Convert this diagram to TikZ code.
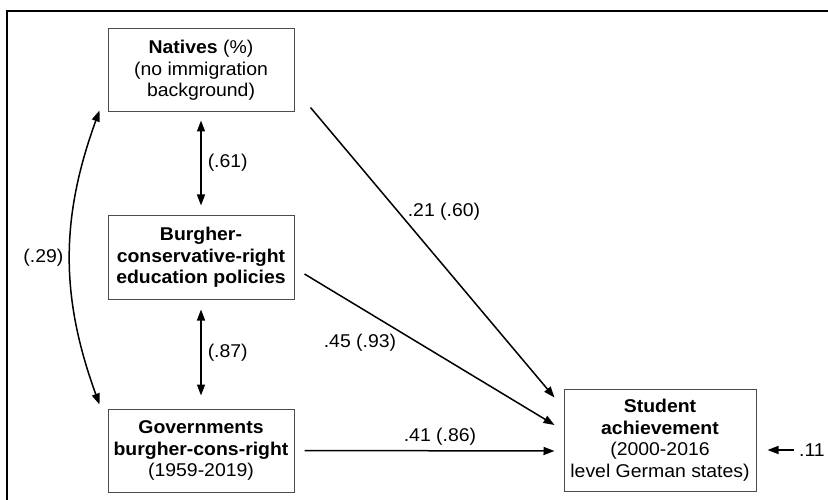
\documentclass[tikz,border=0pt]{standalone}
\usepackage{fontspec}
\setmainfont{Liberation Sans}[FakeStretch=1.05]
\usetikzlibrary{arrows.meta}
\begin{document}
\begin{tikzpicture}[x=1pt,y=1pt,
  box/.style={draw=black!70,line width=1pt,rectangle,minimum width=186pt,align=center,
    font=\fontsize{18.5}{21.5}\selectfont,inner sep=0pt},
  lbl/.style={font=\fontsize{18.5}{21.5}\selectfont,inner sep=0pt},
  arr/.style={line width=1.5pt,-{Triangle[length=11pt,width=8pt]}},
  darr/.style={line width=1.5pt,{Triangle[length=11pt,width=8pt]}-{Triangle[length=11pt,width=8pt]}}]
\useasboundingbox (0,0) rectangle (828,-500);
\draw[line width=1.4pt] (7,-502) -- (7,-11) -- (830,-11);
\node[box,minimum height=83pt] (nat) at (201,-70.5) {\textbf{Natives} (\%)\\(no immigration\\background)};
\node[box,minimum height=83pt] (bur) at (201,-257.5) {\textbf{Burgher-}\\\textbf{conservative-right}\\\textbf{education policies}};
\node[box,minimum height=83pt] (gov) at (201,-450.5) {\textbf{Governments}\\\textbf{burgher-cons-right}\\(1959-2019)};
\node[box,minimum width=192pt,minimum height=102pt] (stu) at (660,-440) {\textbf{Student}\\\textbf{achievement}\\(2000-2016\\level German states)};
\coordinate (res) at (794,-450);
\draw[darr] ([yshift=-8pt]nat.south) -- node[lbl,right=6pt] (l61) {(.61)} ([yshift=10pt]bur.north);
\draw[darr] ([yshift=-10pt]bur.south) -- node[lbl,right=6pt] (l87) {(.87)} ([yshift=13pt]gov.north);
\draw[darr] ([shift={(-8pt,2pt)}]nat.south west) to[bend right=20] node[lbl,left=6pt] (l29) {(.29)} ([shift={(-8pt,4pt)}]gov.north west);
\draw[arr] ([shift={(16pt,5pt)}]nat.south east) -- ([shift={(-9pt,-9pt)}]stu.north west);
\draw[arr] ([shift={(10pt,-16.5pt)}]bur.east) -- ([shift={(-9pt,15pt)}]stu.west);
\draw[arr] ([xshift=10pt]gov.east) -- ([shift={(-9pt,-11pt)}]stu.west);
\draw[arr] (res) -- ([shift={(11pt,-10pt)}]stu.east);
\node[lbl,anchor=west] (l11) at (799,-450) {.11};
\node[lbl] (l21) at (444,-212) {.21 (.60)};
\node[lbl] (l45) at (360,-343) {.45 (.93)};
\node[lbl] (l41) at (440,-437) {.41 (.86)};
\end{tikzpicture}
\end{document}
